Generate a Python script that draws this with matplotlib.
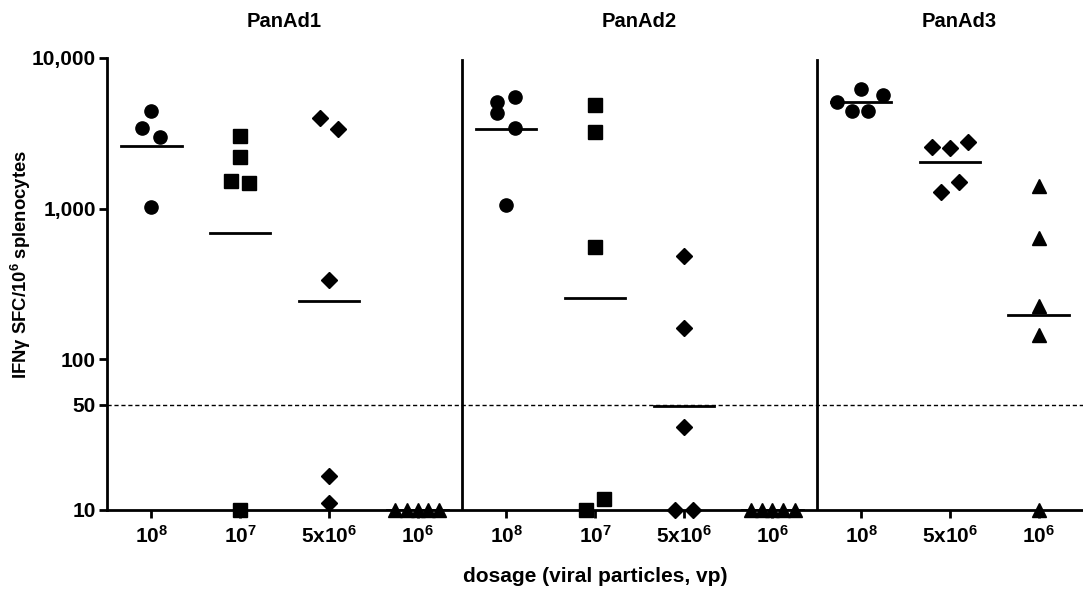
import matplotlib
matplotlib.use("Agg")
import matplotlib.pyplot as plt
import numpy as np

plt.rcParams['font.family'] = ['Liberation Sans', 'DejaVu Sans']
plt.rcParams['font.weight'] = 'bold'
plt.rcParams['mathtext.fontset'] = 'custom'
plt.rcParams['mathtext.bf'] = 'Liberation Sans:bold'
plt.rcParams['mathtext.rm'] = 'Liberation Sans:bold'
plt.rcParams['mathtext.default'] = 'bf'

# groups: (vector, dose label, marker)
panels = ['PanAd1', 'PanAd2', 'PanAd3']
dose_labels = ['10$^{8}$', '10$^{7}$', '5x10$^{6}$', '10$^{6}$',
               '10$^{8}$', '10$^{7}$', '5x10$^{6}$', '10$^{6}$',
               '10$^{8}$', '5x10$^{6}$', '10$^{6}$']
markers = ['o', 's', 'D', '^', 'o', 's', 'D', '^', 'o', 'D', '^']

# IFNg SFC per 10^6 splenocytes, one list per group (10 = below detection)
sfc = [
    [4450, 3410, 2980, 1030],
    [3050, 2200, 1530, 1470, 10],
    [4000, 3400, 338, 16.9, 11.1],
    [10, 10, 10, 10, 10],
    [5480, 5130, 4330, 3450, 1050],
    [4900, 3230, 560, 10, 11.8],
    [485, 161, 35.6, 10, 10],
    [10, 10, 10, 10, 10],
    [5130, 6230, 5680, 4450, 4450],
    [2550, 2520, 2770, 1290, 1500],
    [1420, 643, 227, 144, 10],
]
# horizontal scatter offsets (category units) as seen in the figure
jitter = [
    [0.0, -0.1, 0.1, 0.0],
    [0.0, 0.0, -0.1, 0.1, 0.0],
    [-0.1, 0.1, 0.0, 0.0, 0.0],
    [-0.25, -0.12, 0.0, 0.12, 0.24],
    [0.1, -0.1, -0.1, 0.1, 0.0],
    [0.0, 0.0, 0.0, -0.1, 0.1],
    [0.0, 0.0, 0.0, -0.1, 0.1],
    [-0.24, -0.12, 0.0, 0.12, 0.25],
    [-0.27, 0.0, 0.25, -0.1, 0.08],
    [-0.2, 0.0, 0.2, -0.1, 0.1],
    [0.0, 0.0, 0.0, 0.0, 0.0],
]
threshold = 50

fig = plt.figure(figsize=(10.83, 5.99), dpi=100)
ax = fig.add_axes([0.0988, 0.1486, 0.9012, 0.7546])

xpos = np.arange(1, len(sfc) + 1)
for x, vals, jit, m in zip(xpos, sfc, jitter, markers):
    vals = np.array(vals, dtype=float)
    ms = 8.5 if m == 'D' else 9.5
    ax.plot(x + np.array(jit), vals, linestyle='none', marker=m, color='black',
            markersize=ms, clip_on=False, zorder=3)
    # horizontal bar = geometric mean of the group
    gmean = 10 ** np.mean(np.log10(vals))
    ax.plot([x - 0.34, x + 0.34], [gmean, gmean], color='black', lw=2, zorder=2)

ax.axhline(threshold, color='black', lw=1, linestyle=(0, (3, 2)), zorder=1)
for sep in [4.5, 8.5]:
    ax.axvline(sep, color='black', lw=2, ymax=0.995)

ax.set_yscale('log')
ax.set_ylim(10, 10000)
ax.set_xlim(0.5, 11.5)
ax.set_yticks([10, 50, 100, 1000, 10000])
ax.set_yticklabels(['10', '50', '100', '1,000', '10,000'])
ax.yaxis.set_minor_locator(matplotlib.ticker.NullLocator())
ax.set_xticks(xpos)
ax.set_xticklabels(dose_labels)
ax.tick_params(axis='both', width=2, length=6, labelsize=15)
ax.tick_params(axis='x', pad=5)
ax.tick_params(axis='y', pad=2)
for lab in ax.get_xticklabels() + ax.get_yticklabels():
    lab.set_fontweight('bold')

ax.spines['top'].set_visible(False)
ax.spines['right'].set_visible(False)
ax.spines['left'].set_linewidth(2)
ax.spines['bottom'].set_linewidth(2)

ax.set_ylabel('IFNγ SFC/10$^{6}$ splenocytes', fontsize=13.3, fontweight='bold')
ax.yaxis.set_label_coords(-0.076, 0.544)
ax.set_xlabel('dosage (viral particles, vp)', fontsize=15, fontweight='bold', labelpad=14)

for name, xc in zip(panels, [2.5, 6.5, 10.1]):
    ax.text(xc, 1.08, name, transform=ax.get_xaxis_transform(), ha='center',
            va='center', fontsize=14.5, fontweight='bold')

fig.savefig('out.png', dpi=100)
